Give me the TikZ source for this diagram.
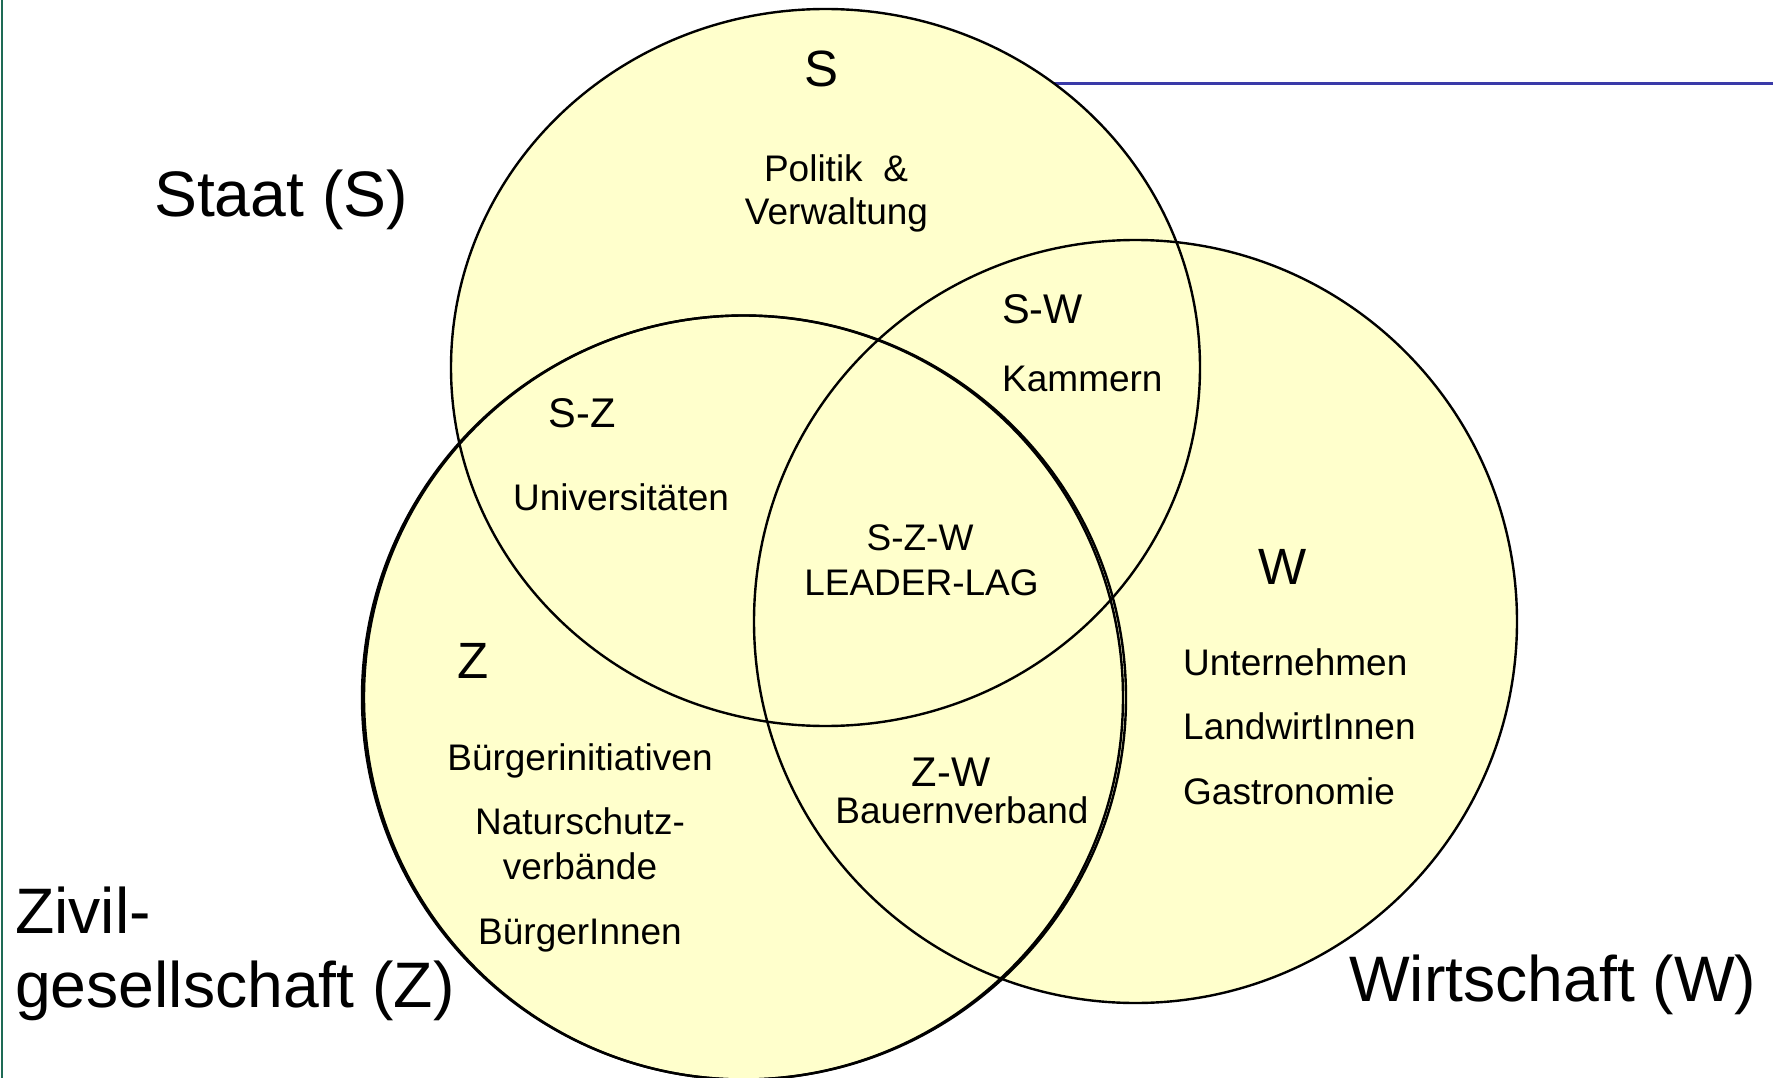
\documentclass[tikz,border=0pt]{standalone}
\usepackage{fontspec}
\setmainfont{Liberation Sans}
\definecolor{vennfill}{HTML}{FFFFCC}
\definecolor{rulegreen}{HTML}{1E6B55}
\definecolor{ruleblue}{HTML}{3A3AA8}
\newcommand{\fs}[1]{\fontsize{#1}{1.2\dimexpr #1pt\relax}\selectfont}
\begin{document}
\begin{tikzpicture}[x=1pt,y=-1pt,
  ring/.style={draw=black,line width=2.4pt},
  big/.style={font=\fs{64.3},inner sep=0pt},
  letter/.style={font=\fs{51},inner sep=0pt},
  pair/.style={font=\fs{41.5},inner sep=0pt},
  item/.style={font=\fs{37},inner sep=0pt}]
\useasboundingbox (0,0) rectangle (1773,1078);
% rules
\coordinate (gTop) at (2,0);
\coordinate (gBot) at (2,1078);
\draw[rulegreen,line width=2.5pt] (gTop) -- (gBot);
\coordinate (bL) at (1000,83.5);
\coordinate (bR) at (1773,83.5);
\draw[ruleblue,line width=2.2pt] (bL) -- (bR);
% fills
\fill[vennfill] (825.5,367.5) ellipse [x radius=374.5, y radius=358.5];
\fill[vennfill] (1135.5,621.5) circle [radius=381.5];
\fill[vennfill] (744,697.5) circle [radius=382];
% outlines
\draw[ring] (825.5,367.5) ellipse [x radius=374.5, y radius=358.5];
\draw[ring] (1135.5,621.5) circle [radius=381.5];
\draw[ring] (744,697.5) circle [radius=382];
\draw[ring] (743.5,697.5) ellipse [x radius=379.5, y radius=382];
% outer labels
\node[big,anchor=base] (staat) at (281,217) {Staat (S)};
\node[big,anchor=base west] (zivil) at (15,933) {Zivil-};
\node[big,anchor=base west] (gesell) at (15,1007) {gesellschaft (Z)};
\node[big,anchor=base west] (wirt) at (1349,1001) {Wirtschaft (W)};
% S
\node[letter,anchor=base] (lS) at (821.5,87) {S};
\node[item,anchor=base] (pol) at (836,182) {Politik~~\&};
\node[item,anchor=base] (verw) at (836.5,225) {Verwaltung};
% S-Z
\node[pair,anchor=base] (lSZ) at (582,427) {S-Z};
\node[item,anchor=base] (uni) at (621,510) {Universitäten};
% S-W
\node[pair,anchor=base west] (lSW) at (1002,323) {S-W};
\node[item,anchor=base west] (kam) at (1002,391) {Kammern};
% S-Z-W
\node[item,anchor=base] (lSZW) at (920,550) {S-Z-W};
\node[item,anchor=base] (leader) at (921.5,595) {LEADER-LAG};
% W
\node[letter,anchor=base] (lW) at (1283,584) {W};
\node[item,anchor=base west] (unt) at (1183,675) {Unternehmen};
\node[item,anchor=base west] (land) at (1183,739) {LandwirtInnen};
\node[item,anchor=base west] (gast) at (1183,804) {Gastronomie};
% Z
\node[letter,anchor=base] (lZ) at (473,678) {Z};
\node[item,anchor=base] (bi) at (580,770) {Bürgerinitiativen};
\node[item,anchor=base] (nat) at (580,834) {Naturschutz-};
\node[item,anchor=base] (verb) at (580,879) {verbände};
\node[item,anchor=base] (bue) at (580,944) {BürgerInnen};
% Z-W
\node[pair,anchor=base] (lZW) at (951,786) {Z-W};
\node[item,anchor=base] (bauer) at (962,823) {Bauernverband};
\end{tikzpicture}
\end{document}
